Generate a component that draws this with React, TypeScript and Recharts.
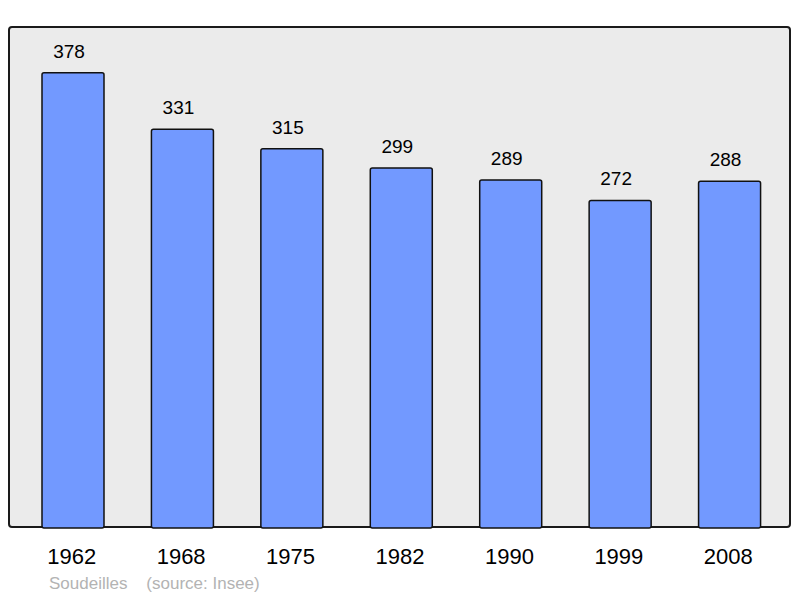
import React from 'react';
import { BarChart, Bar, XAxis, YAxis, LabelList } from 'recharts';

const years = ['1962', '1968', '1975', '1982', '1990', '1999', '2008'];
const population = [378, 331, 315, 299, 289, 272, 288];

const data = years.map((year, i) => ({ year, population: population[i] }));

const font = '"Liberation Sans", Arial, sans-serif';

export default function App() {
  return (
    <div style={{ position: 'fixed', left: 0, top: 0, width: 800, height: 598, background: '#fff', fontFamily: font }}>
      <div
        style={{
          position: 'absolute',
          left: 8,
          top: 26,
          width: 779,
          height: 498,
          background: '#ebebeb',
          border: '2px solid #1a1a1a',
          borderRadius: 4,
        }}
      />
      <div style={{ position: 'absolute', left: 0, top: 0 }}>
        <BarChart width={800} height={598} data={data} margin={{ top: 27, right: 9, bottom: 0, left: 9 }}>
          <XAxis
            dataKey="year"
            height={70}
            axisLine={false}
            tickLine={false}
            tickSize={0}
            tickMargin={20}
            padding={{ left: 9, right: 7 }}
            tick={{ fill: '#000', fontSize: 22, fontFamily: font, dx: -1 }}
          />
          <YAxis hide domain={[0, 416]} />
          <Bar
            dataKey="population"
            fill="#7299ff"
            stroke="#111"
            strokeWidth={1.5}
            barSize={62}
            radius={2}
            isAnimationActive={false}
          >
            <LabelList dataKey="population" position="top" offset={15} dx={-4} fill="#000" fontSize={19} fontFamily={font} />
          </Bar>
        </BarChart>
      </div>
      <div style={{ position: 'absolute', left: 49, top: 574, fontSize: 17, color: '#b3b3b3', whiteSpace: 'pre' }}>
        {'Soudeilles    (source: Insee)'}
      </div>
    </div>
  );
}
